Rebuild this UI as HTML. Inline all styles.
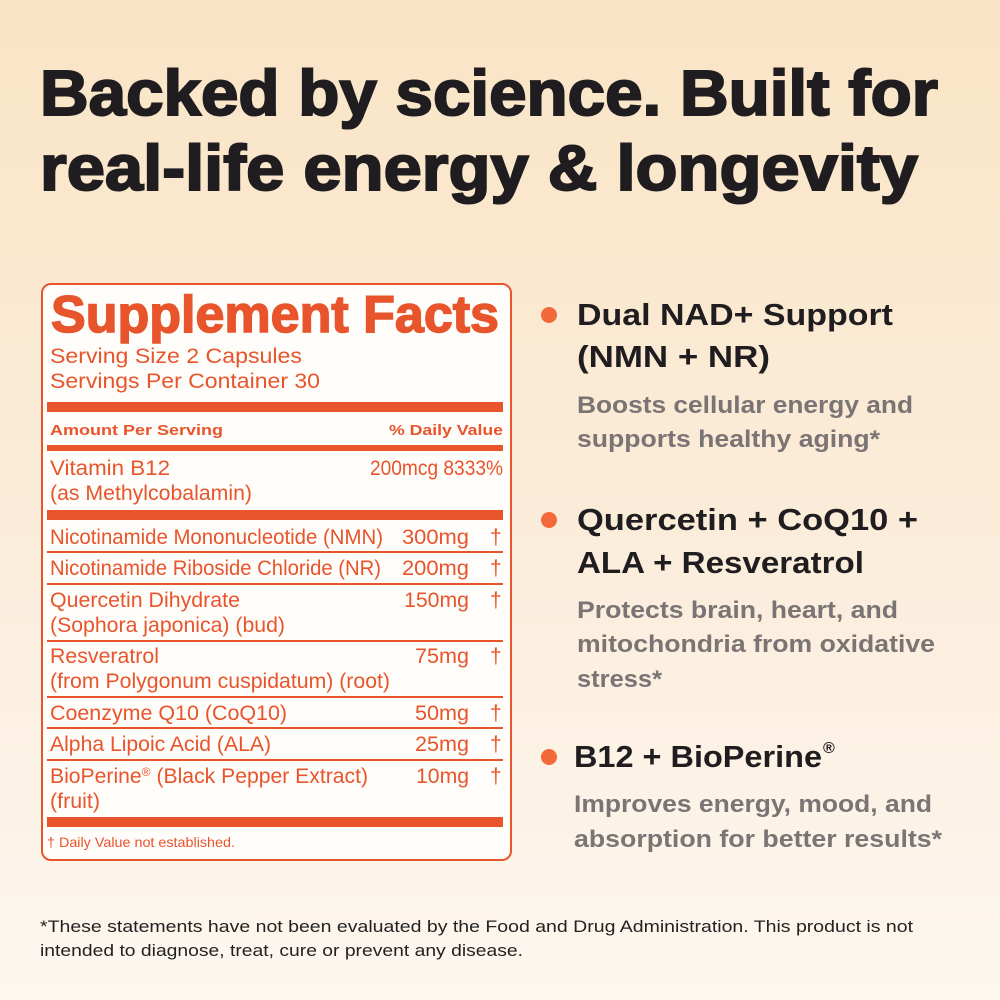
<!DOCTYPE html>
<html><head><meta charset="utf-8"><style>
html,body{margin:0;padding:0;width:1000px;height:1000px;overflow:hidden}
svg{display:block}
text{font-family:"Liberation Sans",sans-serif}
.o{fill:#e8542b}
.h{font-weight:bold;fill:#1f1d1f}
.g{font-weight:bold;fill:#7a7474;font-size:24px}
.r{font-size:21px}
</style></head><body>
<svg width="1000" height="1000" viewBox="0 0 1000 1000" xmlns="http://www.w3.org/2000/svg">
<defs><linearGradient id="bg" x1="0" y1="0" x2="0" y2="1">
<stop offset="0" stop-color="#fae4c5"/><stop offset="0.5" stop-color="#fbecd9"/><stop offset="1" stop-color="#fdf7f0"/></linearGradient></defs>
<rect width="1000" height="1000" fill="url(#bg)"/>
<text x="40" y="115" font-size="64" font-weight="bold" fill="#1f1d1f" stroke="#1f1d1f" stroke-width="2" textLength="898" lengthAdjust="spacingAndGlyphs">Backed by science. Built for</text>
<text x="40" y="190" font-size="64" font-weight="bold" fill="#1f1d1f" stroke="#1f1d1f" stroke-width="2" textLength="878" lengthAdjust="spacingAndGlyphs">real-life energy &amp; longevity</text>

<rect x="42" y="284" width="469" height="576" rx="9" fill="#fffdfa" stroke="#e8542b" stroke-width="2"/>
<g class="o">
<text x="51" y="332" font-size="52" font-weight="bold" stroke="#e8542b" stroke-width="1.5" textLength="448" lengthAdjust="spacingAndGlyphs">Supplement Facts</text>
<text x="50" y="363" class="r" textLength="252" lengthAdjust="spacingAndGlyphs">Serving Size 2 Capsules</text>
<text x="50" y="388" class="r" textLength="270" lengthAdjust="spacingAndGlyphs">Servings Per Container 30</text>
<rect x="47" y="402" width="456" height="10"/>
<text x="50" y="435" font-size="15" font-weight="bold" textLength="173" lengthAdjust="spacingAndGlyphs">Amount Per Serving</text>
<text x="389" y="435" font-size="15" font-weight="bold" textLength="114" lengthAdjust="spacingAndGlyphs">% Daily Value</text>
<rect x="47" y="445" width="456" height="6"/>
<text x="50" y="475" class="r" textLength="120" lengthAdjust="spacingAndGlyphs">Vitamin B12</text>
<text x="370" y="475" class="r" textLength="133" lengthAdjust="spacingAndGlyphs">200mcg 8333%</text>
<text x="50" y="500" class="r" textLength="202" lengthAdjust="spacingAndGlyphs">(as Methylcobalamin)</text>
<rect x="47" y="510" width="456" height="10"/>
<text x="50" y="544" class="r" textLength="333" lengthAdjust="spacingAndGlyphs">Nicotinamide Mononucleotide (NMN)</text>
<text x="402" y="544" class="r" textLength="67" lengthAdjust="spacingAndGlyphs">300mg</text>
<text x="490" y="544" class="r">†</text>
<rect x="47" y="551" width="456" height="2"/>
<text x="50" y="575" class="r" textLength="331" lengthAdjust="spacingAndGlyphs">Nicotinamide Riboside Chloride (NR)</text>
<text x="402" y="575" class="r" textLength="67" lengthAdjust="spacingAndGlyphs">200mg</text>
<text x="490" y="575" class="r">†</text>
<rect x="47" y="583" width="456" height="2"/>
<text x="50" y="607" class="r" textLength="190" lengthAdjust="spacingAndGlyphs">Quercetin Dihydrate</text>
<text x="404" y="607" class="r" textLength="65" lengthAdjust="spacingAndGlyphs">150mg</text>
<text x="490" y="607" class="r">†</text>
<text x="50" y="632" class="r" textLength="235" lengthAdjust="spacingAndGlyphs">(Sophora japonica) (bud)</text>
<rect x="47" y="640" width="456" height="2"/>
<text x="50" y="663" class="r" textLength="109" lengthAdjust="spacingAndGlyphs">Resveratrol</text>
<text x="415" y="663" class="r" textLength="54" lengthAdjust="spacingAndGlyphs">75mg</text>
<text x="490" y="663" class="r">†</text>
<text x="50" y="688" class="r" textLength="340" lengthAdjust="spacingAndGlyphs">(from Polygonum cuspidatum) (root)</text>
<rect x="47" y="696" width="456" height="2"/>
<text x="50" y="720" class="r" textLength="237" lengthAdjust="spacingAndGlyphs">Coenzyme Q10 (CoQ10)</text>
<text x="415" y="720" class="r" textLength="54" lengthAdjust="spacingAndGlyphs">50mg</text>
<text x="490" y="720" class="r">†</text>
<rect x="47" y="727" width="456" height="2"/>
<text x="50" y="751" class="r" textLength="221" lengthAdjust="spacingAndGlyphs">Alpha Lipoic Acid (ALA)</text>
<text x="415" y="751" class="r" textLength="54" lengthAdjust="spacingAndGlyphs">25mg</text>
<text x="490" y="751" class="r">†</text>
<rect x="47" y="759" width="456" height="2"/>
<text x="50" y="783" class="r" textLength="318" lengthAdjust="spacingAndGlyphs">BioPerine<tspan font-size="12" dy="-7">®</tspan><tspan dy="7"> (Black Pepper Extract)</tspan></text>
<text x="416" y="783" class="r" textLength="53" lengthAdjust="spacingAndGlyphs">10mg</text>
<text x="490" y="783" class="r">†</text>
<text x="50" y="808" class="r" textLength="50" lengthAdjust="spacingAndGlyphs">(fruit)</text>
<rect x="47" y="817" width="456" height="10"/>
<text x="47" y="847" font-size="14" textLength="188" lengthAdjust="spacingAndGlyphs">† Daily Value not established.</text>
</g>

<g fill="#f26a3a"><circle cx="549" cy="315" r="8"/><circle cx="549" cy="520" r="8"/><circle cx="549" cy="757" r="8"/></g>
<text x="577" y="325" class="h" font-size="31" textLength="316" lengthAdjust="spacingAndGlyphs">Dual NAD+ Support</text>
<text x="577" y="367" class="h" font-size="31" textLength="193" lengthAdjust="spacingAndGlyphs">(NMN + NR)</text>
<text x="577" y="413" class="g" textLength="336" lengthAdjust="spacingAndGlyphs">Boosts cellular energy and</text>
<text x="577" y="447" class="g" textLength="303" lengthAdjust="spacingAndGlyphs">supports healthy aging*</text>

<text x="577" y="530" class="h" font-size="31" textLength="341" lengthAdjust="spacingAndGlyphs">Quercetin + CoQ10 +</text>
<text x="577" y="573" class="h" font-size="31" textLength="287" lengthAdjust="spacingAndGlyphs">ALA + Resveratrol</text>
<text x="577" y="618" class="g" textLength="321" lengthAdjust="spacingAndGlyphs">Protects brain, heart, and</text>
<text x="577" y="652" class="g" textLength="358" lengthAdjust="spacingAndGlyphs">mitochondria from oxidative</text>
<text x="577" y="687" class="g" textLength="85" lengthAdjust="spacingAndGlyphs">stress*</text>

<text x="574" y="767" class="h" font-size="31" textLength="248" lengthAdjust="spacingAndGlyphs">B12 + BioPerine</text>
<text x="823" y="753" class="h" font-size="16">®</text>
<text x="574" y="812" class="g" textLength="358" lengthAdjust="spacingAndGlyphs">Improves energy, mood, and</text>
<text x="574" y="847" class="g" textLength="368" lengthAdjust="spacingAndGlyphs">absorption for better results*</text>

<text x="40" y="932" font-size="17" fill="#222" textLength="873" lengthAdjust="spacingAndGlyphs">*These statements have not been evaluated by the Food and Drug Administration. This product is not</text>
<text x="40" y="956" font-size="17" fill="#222" textLength="483" lengthAdjust="spacingAndGlyphs">intended to diagnose, treat, cure or prevent any disease.</text>
</svg>
</body></html>
